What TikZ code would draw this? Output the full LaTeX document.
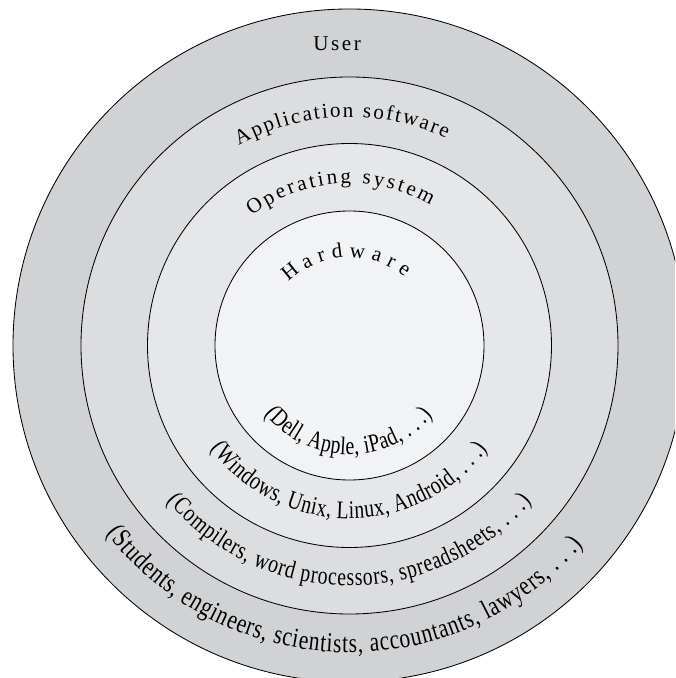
\documentclass[tikz,border=0pt]{standalone}
\usepackage{fontspec}
\setmainfont{Liberation Serif}
\newfontfamily\spacedfont[LetterSpace=12]{Liberation Serif}
\newfontfamily\condfont[FakeStretch=0.78]{Liberation Serif}
\usetikzlibrary{decorations.text}

\definecolor{userfill}{HTML}{D1D2D4}
\definecolor{appfill}{HTML}{DCDDDF}
\definecolor{osfill}{HTML}{E6E7E9}
\definecolor{hwfill}{HTML}{F2F3F5}

\begin{document}
\begin{tikzpicture}[
    ring/.style={draw=black, line width=0.6pt},
    arclabel/.style={decorate, decoration={text along path,
        text align=fit to path, text={|\fontsize{15}{18}\selectfont|#1}}},
    bottomlabel/.style={decorate, decoration={text along path,
        text align=fit to path, text={|\condfont\fontsize{18}{21}\selectfont|#1}}},
    widelabel/.style={decorate, decoration={text along path,
        text align=fit to path, text={|\condfont\fontsize{19.5}{23}\selectfont|#1}}}
]
    \useasboundingbox (-8.7375,-8.3125) rectangle (8.1375,8.6375);
    \clip (-8.7375,-8.3125) rectangle (8.1375,8.6375);

    % layers
    \coordinate (centre) at (0,0);
    \draw[ring, fill=userfill] (centre) circle[radius=8.4125];
    \draw[ring, fill=appfill] (centre) circle[radius=6.7125];
    \draw[ring, fill=osfill] (centre) circle[radius=5.05];
    \draw[ring, fill=hwfill] (centre) circle[radius=3.3625];

    % names
    \node[font=\spacedfont\fontsize{15}{18}\selectfont, anchor=base] (user) at (-0.31,7.37) {User};
    \path[arclabel={Application software}]
        (119:5.7125) arc[start angle=119, end angle=65, radius=5.7125];
    \path[arclabel={Operating system}]
        (127:4.05) arc[start angle=127, end angle=60, radius=4.05];
    \path[arclabel={Hardware}]
        (134:2.2) arc[start angle=134, end angle=51, radius=2.2];

    % examples
    \path[widelabel={(Students, engineers, scientists, accountants, lawyers, . . .)}]
        (217.7:7.675) arc[start angle=217.7, end angle=319.5, radius=7.675];
    \path[bottomlabel={(Compilers, word processors, spreadsheets, . . .)}]
        (220.5:6.0) arc[start angle=220.5, end angle=319.3, radius=6.0];
    \path[bottomlabel={(Windows, Unix, Linux, Android, . . .)}]
        (216.5:4.325) arc[start angle=216.5, end angle=323, radius=4.325];
    \path[bottomlabel={(Dell, Apple, iPad, . . .)}]
        (219:2.725) arc[start angle=219, end angle=320, radius=2.725];
\end{tikzpicture}
\end{document}
